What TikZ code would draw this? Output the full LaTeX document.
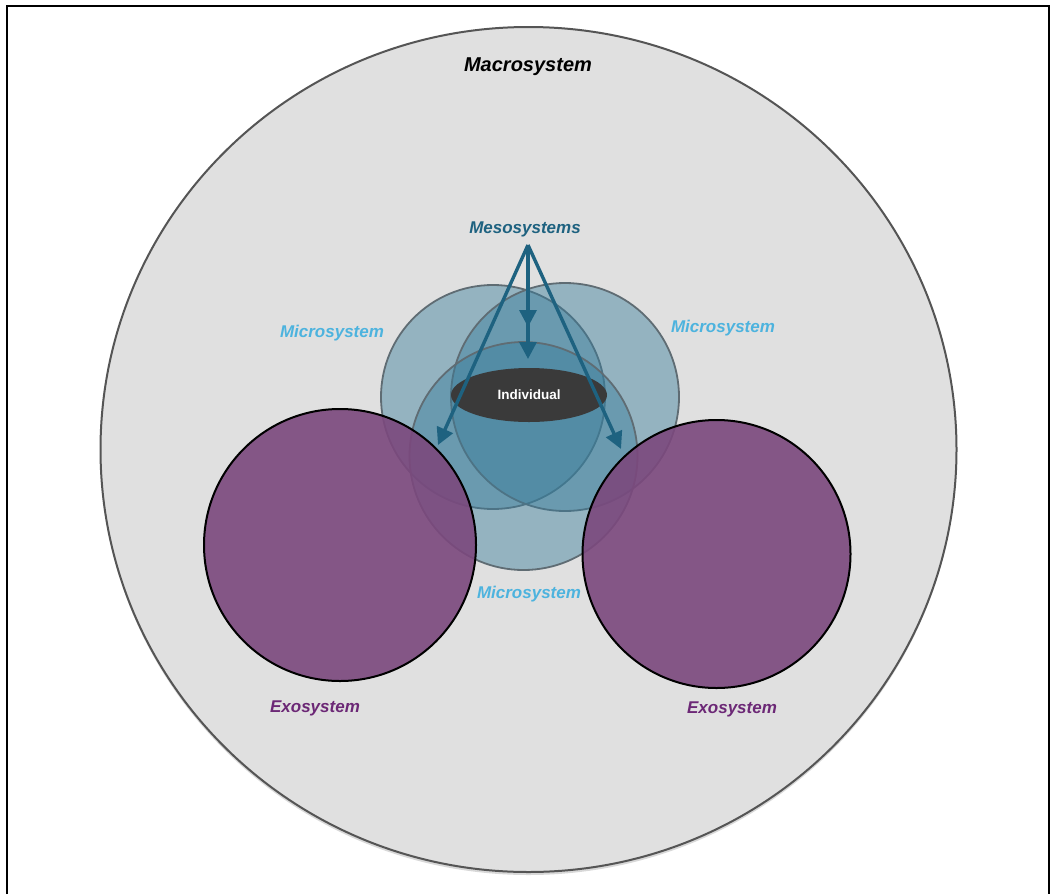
\documentclass[tikz,border=0pt]{standalone}
\usepackage{fontspec}
\setmainfont{Liberation Sans}
\usetikzlibrary{arrows.meta,shapes.geometric,shadows}
\definecolor{MacroClr}{RGB}{224,224,224}
\definecolor{MacroLine}{RGB}{85,85,85}
\definecolor{MicroClr}{RGB}{56,125,155}
\definecolor{MicroLine}{RGB}{95,108,115}
\definecolor{MicroText}{RGB}{77,179,222}
\definecolor{ExoClr}{RGB}{123,72,125}
\definecolor{ExoText}{RGB}{108,40,118}
\definecolor{MesoClr}{RGB}{30,98,128}
\definecolor{IndClr}{RGB}{58,58,58}

\begin{document}
\begin{tikzpicture}[x=1pt,y=-1pt,
  lbl/.style={inner sep=0pt,font=\bfseries\itshape\fontsize{17}{19}\selectfont},
  micro/.style={fill=MicroClr,fill opacity=.45,draw=MicroLine,line width=1.8pt},
  exo/.style={fill=ExoClr,fill opacity=.9,draw=black,line width=2pt},
  mesoarrow/.style={draw=MesoClr,line width=3.4pt,-{Triangle[length=17pt,width=17pt]}}]
\useasboundingbox (0,0) rectangle (1051,894);
\fill[white] (0,0) rectangle (1051,894);

% frame
\draw[line width=2.2pt] (7,894) -- (7,6) -- (1049,6) -- (1049,894);

% macrosystem
\draw[fill=MacroClr,draw=MacroLine,line width=2pt,
  drop shadow={opacity=.3,shadow xshift=0pt,shadow yshift=-3pt}]
  (528.5,449.5) ellipse [x radius=428,y radius=422.5];

% microsystems
\draw[micro] (493,397) circle [radius=112];
\draw[micro] (565,397) circle [radius=114];
\draw[micro] (523.5,456) circle [radius=114];

% exosystems
\draw[exo] (340,545) circle [radius=136];
\draw[exo] (716.5,554) circle [radius=134];

\node[ellipse,fill=IndClr,minimum width=156pt,minimum height=54pt,inner sep=0pt,
  text=white,font=\bfseries\fontsize{13.5}{15}\selectfont] (ind) at (529,395) {Individual};

% labels
\node[lbl,font=\bfseries\itshape\fontsize{20}{22}\selectfont] (macro) at (528,67) {Macrosystem};
\node[lbl,text=MesoClr] (meso) at (525,229) {Mesosystems};
\node[lbl,text=MicroText] (microL) at (332,333) {Microsystem};
\node[lbl,text=MicroText] (microR) at (723,328) {Microsystem};
\node[lbl,text=MicroText] (microB) at (529,594) {Microsystem};
\node[lbl,text=ExoText] (exoL) at (315,708) {Exosystem};
\node[lbl,text=ExoText] (exoR) at (732,709) {Exosystem};

% mesosystem arrows
\coordinate (apex) at (528,245);
\coordinate (tipL) at (438,445);
\coordinate (tipR) at (621,449);
\coordinate (tipM1) at (528,327);
\coordinate (tipM2) at (528,359);
\draw[mesoarrow] (apex) -- (tipL);
\draw[mesoarrow] (apex) -- (tipR);
\draw[mesoarrow] (apex) -- (tipM2);
\draw[mesoarrow] (apex) -- (tipM1);

\end{tikzpicture}
\end{document}
